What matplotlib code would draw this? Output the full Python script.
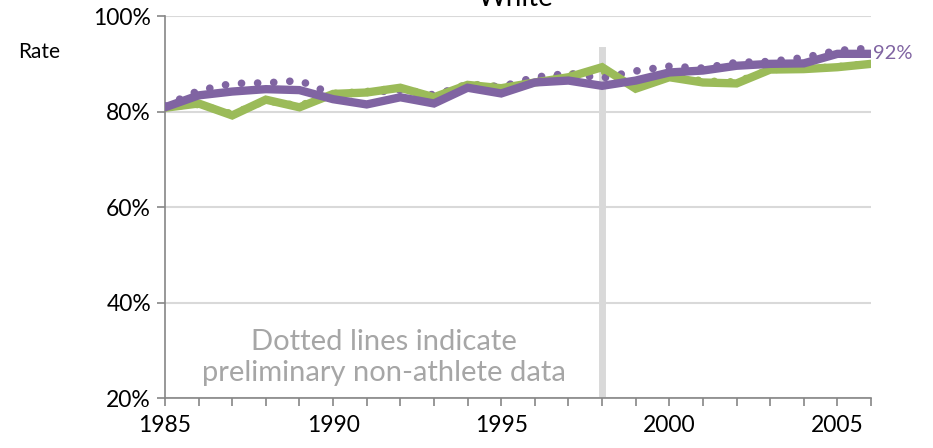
import matplotlib
matplotlib.use("Agg")
import matplotlib.pyplot as plt
from matplotlib.ticker import MultipleLocator, PercentFormatter

plt.rcParams['font.family'] = ['Lato', 'DejaVu Sans']

years = list(range(1985, 2007))
# athlete rates (solid lines)
green_solid = [80.8, 81.7, 79.2, 82.5, 80.9, 83.7, 84.0, 85.0, 83.0, 85.6, 84.9,
               86.1, 87.2, 89.3, 84.8, 87.2, 86.1, 85.9, 88.8, 88.9, 89.3, 90.0]
purple_solid = [80.9, 83.4, 84.2, 84.7, 84.5, 82.6, 81.5, 83.0, 81.7, 85.0, 83.8,
                86.1, 86.5, 85.4, 86.5, 88.2, 88.6, 89.6, 90.0, 90.1, 92.1, 92.1]
# preliminary non-athlete rates (dotted lines)
green_dotted = [81.0, 81.5, 79.5, 82.3, 81.2, 83.8, 84.2, 85.0, 83.2, 85.8, 85.2,
                86.5, 87.8, 88.5, 86.0, 87.5, 86.4, 86.2, 88.8, 89.0, 89.4, 90.1]
purple_dotted = [81.2, 84.4, 85.9, 86.0, 86.5, 83.6, 84.0, 84.5, 83.5, 85.6, 85.2,
                 87.2, 88.0, 87.0, 88.5, 89.5, 89.1, 90.3, 90.5, 91.3, 92.8, 93.3]
end_label = "92%"
cutoff_year = 1998

GREEN = "#9BBB59"
PURPLE = "#8064A2"
GRID = "#D9D9D9"

fig = plt.figure(figsize=(9.33, 4.48), dpi=100)
ax = fig.add_axes([0.1768, 0.1116, 0.9336 - 0.1768, 0.964 - 0.1116])

dot = (0, (0.01, 2.1))
ax.plot(years, green_dotted, color=GREEN, lw=5.5, ls=dot, dash_capstyle='round', zorder=3)
ax.plot(years, purple_dotted, color=PURPLE, lw=5.5, ls=dot, dash_capstyle='round', zorder=4)
ax.plot(years, green_solid, color=GREEN, lw=6, solid_joinstyle='miter', zorder=5)
ax.plot(years, purple_solid, color=PURPLE, lw=6, solid_joinstyle='miter', zorder=6)

ax.axvline(cutoff_year, ymin=0, ymax=0.91, color=GRID, lw=5, zorder=2)

ax.text(2006.05, purple_solid[-1], end_label, color=PURPLE, fontsize=14.5,
        va='center', ha='left', clip_on=False)

ax.text(1991.5, 28.5, "Dotted lines indicate\npreliminary non-athlete data",
        color="#A6A6A6", fontsize=21, ha='center', va='center', linespacing=1.2)

ax.set_xlim(1985, 2006)
ax.set_ylim(20, 100)
ax.xaxis.set_major_locator(MultipleLocator(5))
ax.xaxis.set_minor_locator(MultipleLocator(1))
ax.yaxis.set_major_locator(MultipleLocator(20))
ax.yaxis.set_major_formatter(PercentFormatter(decimals=0))
ax.grid(axis='y', color=GRID, lw=1.5)
ax.set_axisbelow(True)

for s in ['top', 'right']:
    ax.spines[s].set_visible(False)
for s in ['left', 'bottom']:
    ax.spines[s].set_color('#868686')
    ax.spines[s].set_linewidth(1.2)
ax.tick_params(which='both', direction='out', color='#868686', width=1.2,
               labelsize=16.5, length=6)
ax.tick_params(axis='x', pad=6)
ax.tick_params(axis='y', pad=4)

fig.text(18 / 933, 1 - 52 / 448, "Rate", fontsize=15, va='center', ha='left')
fig.text(0.552, 1 - 6 / 448, "White", fontsize=20, ha='center', va='baseline')

fig.savefig("out.png", dpi=100)
